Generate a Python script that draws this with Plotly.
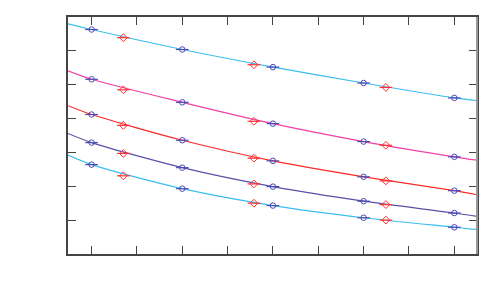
import plotly.graph_objects as go

# blue circle measurements
x_circ = [0, 2, 4, 6, 8]
circ_1 = [6.63, 6.04, 5.52, 5.05, 4.61]
circ_2 = [5.16, 4.48, 3.85, 3.32, 2.87]
circ_3 = [4.12, 3.36, 2.75, 2.28, 1.87]
circ_4 = [3.29, 2.55, 1.99, 1.56, 1.21]
circ_5 = [2.64, 1.93, 1.43, 1.07, 0.79]

# red diamond measurements
x_diam = [0.7, 3.58, 6.49]
diam_1 = [6.39, 5.59, 4.92]
diam_2 = [4.85, 3.92, 3.21]
diam_3 = [3.80, 2.83, 2.16]
diam_4 = [2.97, 2.07, 1.46]
diam_5 = [2.31, 1.50, 1.00]

# fitted curves
x_fit = [-0.52, 0, 2, 4, 6, 8, 8.5]
fit_1 = [6.80, 6.63, 6.04, 5.52, 5.05, 4.61, 4.53]
fit_2 = [5.41, 5.16, 4.48, 3.85, 3.32, 2.87, 2.77]
fit_3 = [4.38, 4.12, 3.36, 2.75, 2.28, 1.87, 1.75]
fit_4 = [3.56, 3.29, 2.55, 1.99, 1.56, 1.21, 1.11]
fit_5 = [2.92, 2.64, 1.93, 1.43, 1.07, 0.79, 0.72]

fit_colors = ["#3cbdee", "#f23fa6", "#ff2a2a", "#5a50a8", "#3cbdee"]
circ_color = "#4a4ab4"
diam_color = "#ff3333"

fig = go.Figure()
for fy, c in zip([fit_1, fit_2, fit_3, fit_4, fit_5], fit_colors):
    fig.add_trace(go.Scatter(x=x_fit, y=fy, mode="lines",
                             line=dict(color=c, width=1.2, shape="spline", smoothing=0.8),
                             hoverinfo="skip", showlegend=False))

for cy in [circ_1, circ_2, circ_3, circ_4, circ_5]:
    fig.add_trace(go.Scatter(x=x_circ, y=cy, mode="markers",
                             marker=dict(symbol="circle-open", size=5.5, color=circ_color,
                                         line=dict(width=1, color=circ_color)),
                             error_x=dict(type="constant", value=0.14, width=0,
                                          thickness=1.2, color=circ_color),
                             showlegend=False))

for dy in [diam_1, diam_2, diam_3, diam_4, diam_5]:
    fig.add_trace(go.Scatter(x=x_diam, y=dy, mode="markers",
                             marker=dict(symbol="diamond-open", size=6, color=diam_color,
                                         line=dict(width=1, color=diam_color)),
                             error_x=dict(type="constant", value=0.14, width=0,
                                          thickness=1.2, color=diam_color),
                             showlegend=False))

axis_common = dict(showgrid=False, zeroline=False, showticklabels=False,
                   ticks="inside", ticklen=8, tickwidth=1, tickcolor="#444",
                   showline=True, linecolor="#444", linewidth=1.5, mirror="ticks")

fig.update_xaxes(range=[-0.52, 8.5], tick0=0, dtick=1, **axis_common)
fig.update_yaxes(range=[0, 7], tick0=0, dtick=1, **axis_common)

fig.add_shape(type="line", xref="paper", yref="paper", x0=1, x1=1, y0=0, y1=1,
              line=dict(color="#999", width=2))

fig.update_layout(width=500, height=300, margin=dict(l=60, r=31, t=7, b=54),
                  plot_bgcolor="white", paper_bgcolor="white")

fig.write_html("out.html")
